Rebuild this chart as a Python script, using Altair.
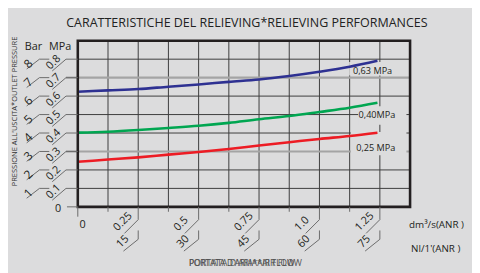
import altair as alt
import pandas as pd

# ---- data ----
flow = [0, 0.125, 0.25, 0.375, 0.5, 0.625, 0.75, 0.875, 1.0, 1.125, 1.24]
p063 = [0.624, 0.631, 0.638, 0.651, 0.663, 0.677, 0.690, 0.709, 0.732, 0.759, 0.791]
p040 = [0.402, 0.407, 0.416, 0.427, 0.439, 0.455, 0.475, 0.492, 0.514, 0.537, 0.564]
p025 = [0.244, 0.256, 0.268, 0.283, 0.297, 0.313, 0.332, 0.350, 0.368, 0.384, 0.402]
series_names = ["0,63 MPa", "0,40MPa", "0,25 MPa"]
series_colors = ["#2e3192", "#00a651", "#ed1c24"]

label_x = [1.22, 1.238, 1.233]
label_y = [0.733, 0.496, 0.318]
box_x1 = [1.123, 1.16, 1.13]
box_x2 = [1.318, 1.36, 1.36]
box_y1 = [0.785, 0.545, 0.405]
box_y2 = [0.712, 0.445, 0.28]

x_domain = [0, 1.375]
y_domain = [0, 0.9]
grid_x = [0.125, 0.25, 0.375, 0.5, 0.625, 0.75, 0.875, 1.0, 1.125, 1.25]
grid_y_dark = [0.1, 0.2, 0.4, 0.5, 0.6, 0.8]
grid_y_gray = [0.3, 0.7]

minor_x = [0.125, 0.375, 0.625, 0.875, 1.125]
major_x = [0.25, 0.5, 0.75, 1.0, 1.25]
major_dm3 = ["0.25", "0.5", "0.75", "1.0", "1.25"]
major_nl = ["15", "30", "45", "60", "75"]

mpa_vals = [0.1, 0.2, 0.3, 0.4, 0.5, 0.6, 0.7, 0.8]
mpa_labels = ["0.1", "0.2", "0.3", "0.4", "0.5", "0.6", "0.7", "0.8"]
bar_labels = ["1", "2", "3", "4", "5", "6", "7", "8"]

TITLE = "CARATTERISTICHE DEL RELIEVING*RELIEVING PERFORMANCES"
YTITLE = "PRESSIONE ALL'USCITA*OUTLET PRESSURE"
XTITLE = "PORTATA D'ARIA*AIR FLOW"

BG = "#dcdcdd"
INK = "#231f20"
FONT = "Open Sans"

xs = alt.Scale(domain=x_domain, nice=False, zero=False)
ys = alt.Scale(domain=y_domain, nice=False, zero=False)

curves = pd.DataFrame({
    "flow": flow * 3,
    "p": p063 + p040 + p025,
    "s": [series_names[0]] * len(flow) + [series_names[1]] * len(flow) + [series_names[2]] * len(flow),
})
labels = pd.DataFrame({"s": series_names, "x": label_x, "y": label_y,
                       "x1": box_x1, "x2": box_x2, "y1": box_y1, "y2": box_y2})

X = lambda f: alt.X(f, type="quantitative", scale=xs, axis=None)
Y = lambda f: alt.Y(f, type="quantitative", scale=ys, axis=None)

layers = []

# gridlines
gx = pd.DataFrame({"x": grid_x, "y0": y_domain[0], "y1": y_domain[1]})
layers.append(alt.Chart(gx).mark_rule(color="#3c3c3c", strokeWidth=1).encode(
    x=X("x"), y=Y("y0"), y2="y1"))
gyd = pd.DataFrame({"y": grid_y_dark, "x0": x_domain[0], "x1": x_domain[1]})
layers.append(alt.Chart(gyd).mark_rule(color="#3c3c3c", strokeWidth=1).encode(
    y=Y("y"), x=X("x0"), x2="x1"))
gyg = pd.DataFrame({"y": grid_y_gray, "x0": x_domain[0], "x1": x_domain[1]})
layers.append(alt.Chart(gyg).mark_rule(color="#a4a4a4", strokeWidth=2.2).encode(
    y=Y("y"), x=X("x0"), x2="x1"))
layers.append(alt.Chart(gyg).mark_rule(color="#a4a4a4", strokeWidth=2.2).encode(
    y=Y("y"), x=alt.value(-12), x2=alt.value(0)))

# label background boxes
layers.append(alt.Chart(labels).mark_rect(color=BG).encode(
    x=X("x1"), x2="x2", y=Y("y1"), y2="y2"))

# curves
layers.append(alt.Chart(curves).mark_line(strokeWidth=2.6, interpolate="monotone").encode(
    x=X("flow"), y=Y("p"),
    color=alt.Color("s:N", scale=alt.Scale(domain=series_names, range=series_colors), legend=None)))

# curve labels
layers.append(alt.Chart(labels).mark_text(font=FONT, fontSize=9.3, color=INK, align="center", baseline="middle").encode(
    x=X("x"), y=Y("y"), text="s:N"))

# frame
frame = pd.DataFrame({"x0": [x_domain[0]], "x1": [x_domain[1]], "y0": [y_domain[0]], "y1": [y_domain[1]]})
layers.append(alt.Chart(frame).mark_rect(filled=False, stroke=INK, strokeWidth=2.6).encode(
    x=X("x0"), x2="x1", y=Y("y0"), y2="y1"))

# ---- left scale decorations ----
ydf = pd.DataFrame({"v": mpa_vals, "m": mpa_labels, "b": bar_labels})
DEC = "#6a6a6a"
layers.append(alt.Chart(ydf).mark_rule(color=DEC, strokeWidth=1).encode(
    y=Y("v"), x=alt.value(-12), x2=alt.value(0)))
layers.append(alt.Chart(ydf).mark_rule(color=DEC, strokeWidth=1, y2Offset=12).encode(
    y=Y("v"), y2="v", x=alt.value(-12), x2=alt.value(-26)))
layers.append(alt.Chart(ydf).mark_text(font=FONT, fontSize=11, color=INK, angle=315, align="left",
                                       baseline="alphabetic", yOffset=11).encode(
    y=Y("v"), x=alt.value(-28), text="m:N"))
layers.append(alt.Chart(ydf).mark_rule(color=DEC, strokeWidth=1).encode(
    y=Y("v"), x=alt.value(-39), x2=alt.value(-29)))
layers.append(alt.Chart(ydf).mark_rule(color=DEC, strokeWidth=1, y2Offset=10).encode(
    y=Y("v"), y2="v", x=alt.value(-39), x2=alt.value(-52)))
layers.append(alt.Chart(ydf).mark_text(font=FONT, fontSize=12, color=INK, angle=315, align="left",
                                       baseline="alphabetic", yOffset=10).encode(
    y=Y("v"), x=alt.value(-50), text="b:N"))
zero_df = pd.DataFrame({"v": [0], "t": ["0"]})
layers.append(alt.Chart(zero_df).mark_rule(color=DEC, strokeWidth=1).encode(
    y=Y("v"), x=alt.value(-11), x2=alt.value(0)))
layers.append(alt.Chart(zero_df).mark_text(font=FONT, fontSize=11, color=INK, align="center", baseline="middle", dy=2).encode(
    y=Y("v"), x=alt.value(-20), text="t:N"))

# ---- bottom scale decorations ----
layers.append(alt.Chart(pd.DataFrame({"x": minor_x})).mark_rule(color=DEC, strokeWidth=1).encode(
    x=X("x"), y=alt.value(169), y2=alt.value(174)))
layers.append(alt.Chart(zero_df).mark_rule(color=DEC, strokeWidth=1).encode(
    x=X("v"), y=alt.value(169), y2=alt.value(179)))
layers.append(alt.Chart(zero_df).mark_text(font=FONT, fontSize=11, color=INK, align="center", baseline="middle", dx=5).encode(
    x=X("v"), y=alt.value(187), text="t:N"))
xdf = pd.DataFrame({"x": major_x, "d": major_dm3, "n": major_nl})
layers.append(alt.Chart(xdf).mark_rule(color=DEC, strokeWidth=1).encode(
    x=X("x"), y=alt.value(169), y2=alt.value(182)))
layers.append(alt.Chart(xdf).mark_rule(color=DEC, strokeWidth=1, x2Offset=-14).encode(
    x=X("x"), x2="x", y=alt.value(182), y2=alt.value(196)))
layers.append(alt.Chart(xdf).mark_text(font=FONT, fontSize=11, color=INK, angle=315, align="left",
                                       baseline="alphabetic", xOffset=-21).encode(
    x=X("x"), y=alt.value(194), text="d:N"))
layers.append(alt.Chart(xdf).mark_rule(color=DEC, strokeWidth=1).encode(
    x=X("x"), y=alt.value(193), y2=alt.value(202)))
layers.append(alt.Chart(xdf).mark_rule(color=DEC, strokeWidth=1, x2Offset=-15).encode(
    x=X("x"), x2="x", y=alt.value(202), y2=alt.value(214)))
layers.append(alt.Chart(xdf).mark_text(font=FONT, fontSize=11, color=INK, angle=315, align="left",
                                       baseline="alphabetic", xOffset=-18).encode(
    x=X("x"), y=alt.value(211), text="n:N"))

# ---- texts ----
def txt(t, x, y, size, align="left", angle=0, color=INK, baseline="alphabetic"):
    return alt.Chart(pd.DataFrame({"t": [t]})).mark_text(
        font=FONT, fontSize=size, color=color, align=align, angle=angle, baseline=baseline).encode(
        x=alt.value(x), y=alt.value(y), text="t:N")

layers.append(txt(TITLE, 172, -14, 12.7, align="center", color="#222"))
layers.append(txt(YTITLE, -64, 72, 7.6, align="center", angle=270, baseline="middle", color="#333"))
layers.append(txt("Bar", -45, 6, 11, align="center", baseline="middle"))
layers.append(txt("MPa", -18, 6, 11, align="center", baseline="middle"))
layers.append(txt("dm³/s(ANR )", 337, 191, 10))
layers.append(txt("Nl/1'(ANR )", 339, 215, 10))
layers.append(txt(XTITLE, 113, 229, 8.4, color="#444"))
layers.append(txt(XTITLE, 113, 229.5, 9.0, color="#555"))

chart = alt.layer(*layers).properties(
    width=338, height=169, background=BG, autosize="none",
    padding={"left": 71, "top": 31, "right": 63, "bottom": 65},
).configure_view(stroke=None)

chart.save("out.html", embed_options={"renderer": "svg", "actions": False})
